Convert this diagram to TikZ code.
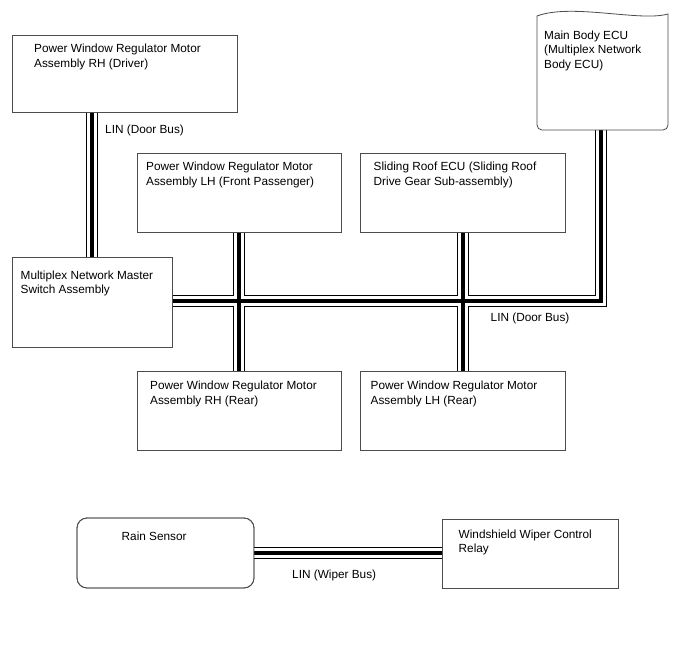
\documentclass[tikz,border=0pt]{standalone}
\usepackage{fontspec}
\setmainfont{Liberation Sans}
\begin{document}
\begin{tikzpicture}[x=1pt,y=-1pt,
  box/.style={draw=black!70,line width=0.8pt,fill=white,rectangle,inner sep=0pt,outer sep=0pt,anchor=north west},
  lbl/.style={anchor=north west,inner sep=0pt,align=left,font=\fontsize{11.8}{14.6}\selectfont},
  busA/.style={line width=11.6pt,draw=black},
  busB/.style={line width=9.4pt,draw=white},
  busC/.style={line width=4pt,draw=black}]
\fill[white] (0,0) rectangle (688,658);
\useasboundingbox (0,0) rectangle (688,658);
% box placeholders (for anchors)
\node[box,minimum width=225,minimum height=77] (drv) at (12,35) {};
\node[box,draw=none,fill=none,minimum width=131,minimum height=122] (ecu) at (537,8) {};
\node[box,minimum width=204,minimum height=79] (lhf) at (137,153) {};
\node[box,minimum width=205,minimum height=79] (srf) at (360,153) {};
\node[box,minimum width=160,minimum height=90] (ms) at (12,257) {};
\node[box,minimum width=204,minimum height=79] (rhr) at (137,371) {};
\node[box,minimum width=205,minimum height=79] (lhr) at (360,371) {};
\node[box,rounded corners=10pt,minimum width=177,minimum height=70] (rain) at (77,518) {};
\node[box,minimum width=176,minimum height=69] (wcr) at (442,519) {};
% bus x/y positions
\coordinate (xa) at (92,0);
\coordinate (xb) at (239,0);
\coordinate (xc) at (463,0);
\coordinate (xe) at (601,0);
\coordinate (yb) at (0,301);
\coordinate (corner) at (xe |- yb);
\newcommand\BusNet[1]{%
  \draw[#1] (drv.south -| xa) -- (ms.north -| xa);
  \draw[#1,line join=miter] (ms.east |- yb) -- (corner) -- (ecu.south -| xe);
  \draw[#1] (lhf.south -| xb) -- (rhr.north -| xb);
  \draw[#1] (srf.south -| xc) -- (lhr.north -| xc);
  \draw[#1] (rain.east) -- (rain.east -| wcr.west);}
\BusNet{busA}
\BusNet{busB}
\BusNet{busC}
% redraw boxes on top
\foreach \n in {drv,lhf,srf,ms,rhr,lhr,wcr}{
  \draw[draw=black!70,line width=0.8pt] (\n.north west) rectangle (\n.south east);}
\draw[draw=black!70,line width=0.8pt,rounded corners=10pt] (rain.north west) rectangle (rain.south east);
% main body ECU (document shape)
\draw[draw=black!70,line width=0.8pt,fill=white]
  (ecu.west |- 0,16) [rounded corners=5pt] -- (ecu.south west) -- (ecu.south east)
  [sharp corners] -- (ecu.east |- 0,14)
  .. controls (640,22) and (572,3) .. (ecu.west |- 0,16) -- cycle;
% texts
\node[lbl] (tdrv) at (34,44) {Power Window Regulator Motor\\Assembly RH (Driver)};
\node[lbl] (tecu) at (544,30.5) {Main Body ECU\\(Multiplex Network\\Body ECU)};
\node[lbl] (tlhf) at (146,162) {Power Window Regulator Motor\\Assembly LH (Front Passenger)};
\node[lbl] (tsrf) at (373.5,162) {Sliding Roof ECU (Sliding Roof\\Drive Gear Sub-assembly)};
\node[lbl] (tms) at (20.5,270.5) {Multiplex Network Master\\Switch Assembly};
\node[lbl] (trhr) at (150,381) {Power Window Regulator Motor\\Assembly RH (Rear)};
\node[lbl] (tlhr) at (370.5,381) {Power Window Regulator Motor\\Assembly LH (Rear)};
\node[lbl] (train) at (121.5,531.5) {Rain Sensor};
\node[lbl] (twcr) at (458.5,529.5) {Windshield Wiper Control\\Relay};
\node[lbl] (lin1) at (105,125) {LIN (Door Bus)};
\node[lbl] (lin2) at (490.5,312.5) {LIN (Door Bus)};
\node[lbl] (lin3) at (292,570) {LIN (Wiper Bus)};
\end{tikzpicture}
\end{document}
